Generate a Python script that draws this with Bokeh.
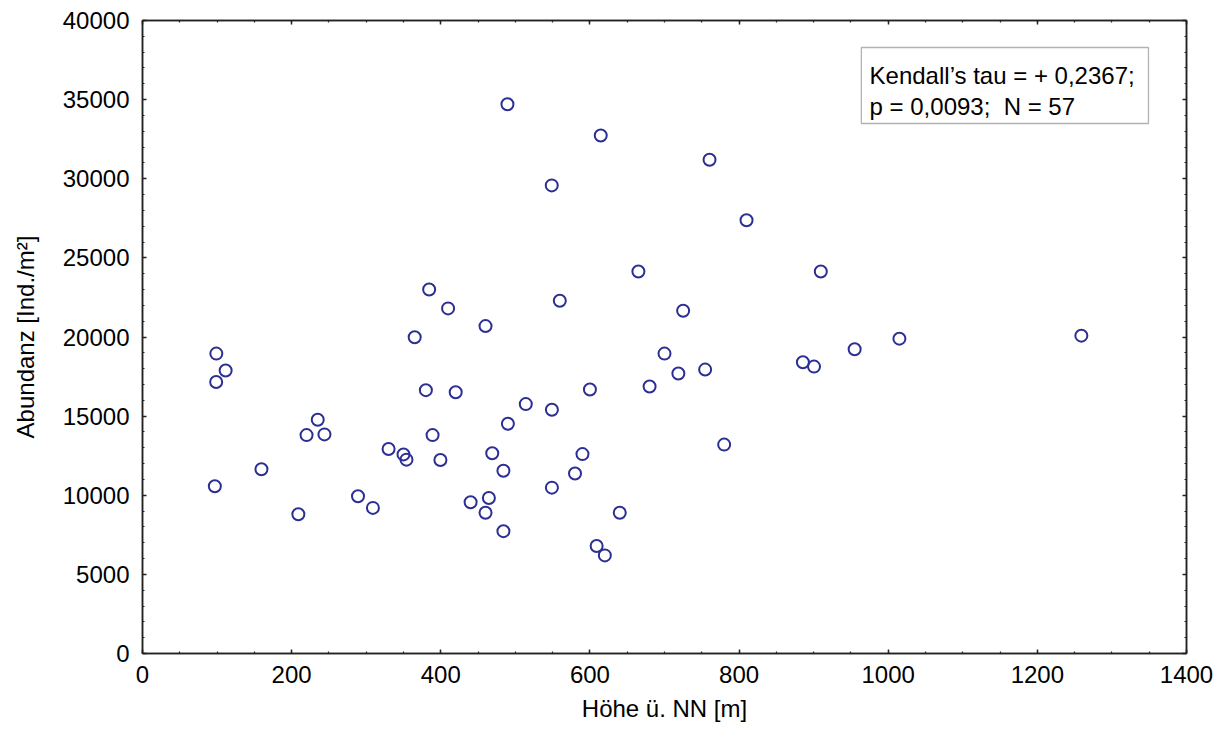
from bokeh.plotting import figure
from bokeh.models import (LinearAxis, SingleIntervalTicker, CustomJSTickFormatter,
                          BoxAnnotation, Label, Range1d)
from bokeh.embed import file_html
from bokeh.resources import INLINE

# Höhe ü. NN [m]
hoehe = [99, 111.5, 98.8, 235, 220, 244, 159.5, 97, 209, 289, 309, 330, 350, 354,
         365, 380, 420, 389, 399.5, 460, 514, 549, 490, 469, 484, 590, 580, 549,
         464.5, 440, 460, 484, 640, 609, 620, 600, 680, 700, 718.6, 489.4, 614.5,
         548.8, 384.4, 409.8, 559.6, 760.4, 810, 665, 909.6, 725, 754.5, 885.6,
         900.5, 955, 1015, 1259, 780]
# Abundanz [Ind./m²]
abundanz = [18950, 17880, 17160, 14770, 13800, 13845, 11640, 10570, 8800, 9940, 9200,
            12920, 12580, 12250, 19980, 16640, 16510, 13800, 12230, 20690, 15760,
            15400, 14520, 12650, 11550, 12600, 11370, 10480, 9830, 9560, 8890, 7730,
            8890, 6790, 6200, 16680, 16870, 18950, 17690, 34706, 32731, 29580, 23004,
            21807, 22290, 31197, 27374, 24139, 24139, 21660, 17941, 18403, 18130,
            19223, 19895, 20084, 13200]

stat_lines = ["Kendall\u2019s tau = + 0,2367;", "p = 0,0093;\u00a0 N = 57"]
x_title = "Höhe ü. NN [m]"
y_title = "Abundanz [Ind./m²]"

FONT = "Liberation Sans"
FS = "24px"
AX = "#222222"

p = figure(width=1226, height=743, output_backend="svg", toolbar_location=None,
           x_range=Range1d(0, 1400), y_range=Range1d(0, 40000),
           x_axis_location=None, y_axis_location=None)
p.min_border_left = 142
p.min_border_right = 40
p.min_border_top = 20
p.min_border_bottom = 90
p.grid.visible = False
p.outline_line_color = AX
p.outline_line_width = 1.5
p.background_fill_color = "white"
p.border_fill_color = "white"


def style(ax, labels=True):
    ax.axis_line_color = AX
    ax.axis_line_width = 1.5
    ax.major_tick_line_color = AX
    ax.minor_tick_line_color = AX
    ax.major_tick_line_width = 1.5
    ax.minor_tick_line_width = 1.2
    ax.major_tick_in = 4
    ax.major_tick_out = 0
    ax.minor_tick_in = 2
    ax.minor_tick_out = 0
    ax.major_label_text_font = FONT
    ax.major_label_text_font_size = FS
    ax.major_label_text_color = "black"
    ax.axis_label_text_font = FONT
    ax.axis_label_text_font_size = FS
    ax.axis_label_text_font_style = "normal"
    ax.axis_label_text_color = "black"
    if not labels:
        ax.formatter = CustomJSTickFormatter(code="return ''")
        ax.major_label_standoff = 0


xt = lambda: SingleIntervalTicker(interval=200, num_minor_ticks=4)
yt = lambda: SingleIntervalTicker(interval=5000, num_minor_ticks=5)

xb = LinearAxis(ticker=xt(), axis_label=x_title)
style(xb)
xb.major_label_standoff = 12
xb.axis_label_standoff = 9
p.add_layout(xb, "below")

yl = LinearAxis(ticker=yt(), axis_label=y_title)
style(yl)
yl.major_label_standoff = 13
yl.axis_label_standoff = 21
p.add_layout(yl, "left")

xa = LinearAxis(ticker=xt())
style(xa, labels=False)
p.add_layout(xa, "above")

yr = LinearAxis(ticker=yt())
style(yr, labels=False)
p.add_layout(yr, "right")

p.scatter(hoehe, abundanz, marker="circle", size=12, fill_color=None,
          line_color="#2b2e92", line_width=2)

box = BoxAnnotation(left=964, right=1349, top=38294, bottom=33491,
                    fill_color="white", fill_alpha=1.0, line_color="black", line_width=1.3)
p.add_layout(box)
for i, t in enumerate(stat_lines):
    p.add_layout(Label(x=975, y=36525 - i * 1960, text=t, text_font=FONT,
                       text_font_size=FS, text_baseline="middle", text_color="black"))

open("out.html", "w").write(file_html(p, INLINE))
